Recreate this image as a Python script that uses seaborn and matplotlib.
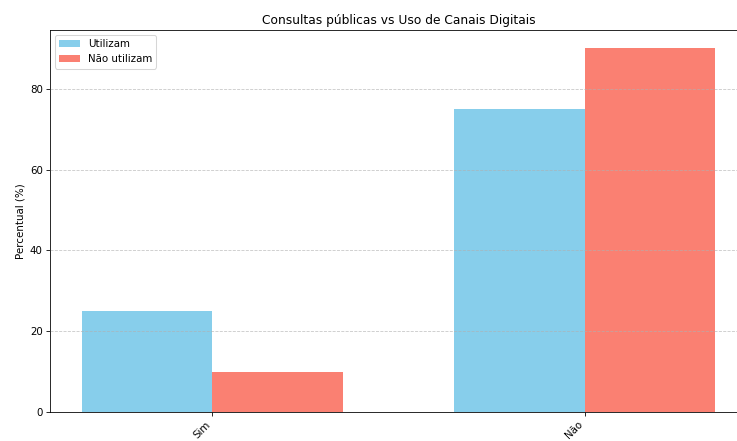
import pandas as pd
from matplotlib import pyplot as plt
import seaborn as sns

############### Data ######################
categorias = ['Sim', 'Não']
utilizam = [25, 75]
nao_utilizam = [10, 90]
series = ['Utilizam', 'Não utilizam']
cores = ['skyblue', 'salmon']

df = pd.DataFrame({
    'Consulta': categorias * 2,
    'Grupo': [series[0]] * len(categorias) + [series[1]] * len(categorias),
    'Percentual': utilizam + nao_utilizam,
})

############### Plotting #############################
dpi = 73.7
fig = plt.figure(figsize=(737 / dpi, 441 / dpi), dpi=dpi)
ax = fig.add_axes([0.0678, 0.0658, 0.9457, 0.866])

sns.barplot(data=df, x='Consulta', y='Percentual', hue='Grupo',
            palette=cores, saturation=1, width=0.7, ax=ax)
for p in ax.patches:
    p.set_zorder(1)

ax.set_xlim(-0.435, 1.435)
ax.set_ylim(0, 94.5)
ax.set_title('Consultas públicas vs Uso de Canais Digitais', fontsize=12)
ax.set_ylabel('Percentual (%)')
ax.set_xlabel('')
ax.set_yticks([0, 20, 40, 60, 80])
plt.setp(ax.get_xticklabels(), rotation=45, ha='right')
ax.set_axisbelow(False)
ax.grid(axis='y', linestyle='--', alpha=0.7)
ax.spines['right'].set_visible(False)
ax.legend(loc='upper left')

fig.savefig('out.png', dpi=dpi)
